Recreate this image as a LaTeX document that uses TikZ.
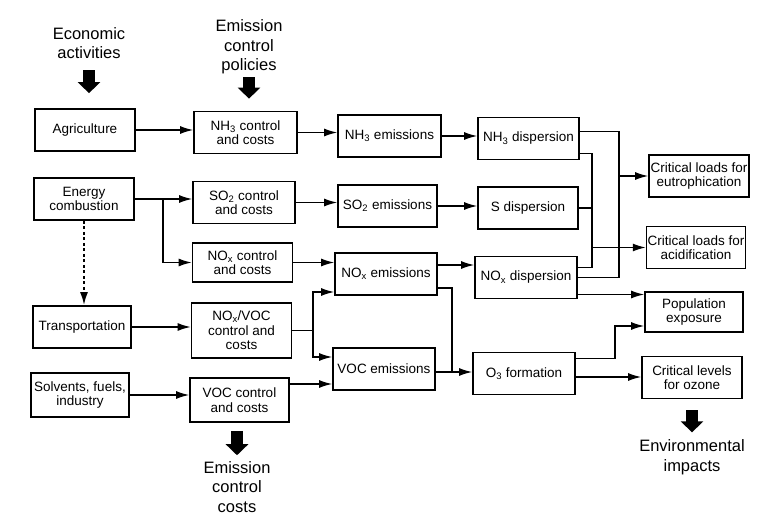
\documentclass[tikz,border=0pt]{standalone}
\usepackage{fontspec}
\setmainfont{Liberation Sans}
\usetikzlibrary{arrows.meta,calc}

\begin{document}
\begin{tikzpicture}[x=1pt,y=-1pt,
	box/.style={draw, line width=1.7pt, align=center, inner sep=1pt,
		minimum width=100pt, minimum height=42pt, font=\fontsize{13.5}{14.5}\selectfont},
	wire/.style={line width=1.4pt},
	conn/.style={line width=1.4pt, -{Latex[length=13pt,width=8pt]}},
	lbl/.style={align=center, inner sep=0pt, font=\fontsize{16.5}{19.5}\selectfont},
	bigarrow/.style={line width=12pt, -{Triangle[length=11pt,width=22pt]}}]
		\useasboundingbox (0,0) rectangle (770,518);
		% outside labels
		\node[lbl] (econ) at (89,43) {Economic\\activities};
		\node[lbl] (policies) at (249,47) {Emission\\control\\policies};
		\node[lbl] (costs) at (237,487) {Emission\\control\\costs};
		\node[lbl] (impacts) at (692,457) {Environmental\\impacts};
		% activities
		\node[box] (agri) at (85,130) {Agriculture};
		\node[box] (energy) at (84,199) {Energy\\combustion};
		\node[box, minimum width=98pt] (transp) at (82,327) {Transportation};
		\node[box, minimum width=98pt, minimum height=44pt] (solv) at (80,395) {Solvents, fuels,\\industry};
		% controls
		\node[box, minimum width=103pt] (nhctrl) at (245.5,132.5) {NH\textsubscript{3} control\\and costs};
		\node[box, minimum width=102pt] (soctrl) at (244,202.5) {SO\textsubscript{2} control\\and costs};
		\node[box, minimum height=39pt] (noctrl) at (242.5,262.5) {NO\textsubscript{x} control\\and costs};
		\node[box, minimum height=55pt] (novocctrl) at (241.5,330.5) {NO\textsubscript{x}/VOC\\control and\\costs};
		\node[box, minimum width=99pt, minimum height=44pt] (vocctrl) at (239.5,400) {VOC control\\and costs};
		% emissions
		\node[box, minimum width=103pt] (nhem) at (389.5,136) {NH\textsubscript{3} emissions};
		\node[box, minimum width=99pt] (soem) at (387.5,206) {SO\textsubscript{2} emissions};
		\node[box, minimum width=102pt] (noem) at (386,274) {NO\textsubscript{x} emissions};
		\node[box, minimum width=102pt] (vocem) at (384,369) {VOC emissions};
		% dispersion
		\node[box, minimum width=101pt] (nhdisp) at (528.5,138.5) {NH\textsubscript{3} dispersion};
		\node[box] (sdisp) at (528,208) {S dispersion};
		\node[box, minimum width=102pt] (nodisp) at (526,277.5) {NO\textsubscript{x} dispersion};
		\node[box, minimum width=102pt] (othree) at (524,373.5) {O\textsubscript{3} formation};
		% impacts
		\node[box] (eutro) at (699,176) {Critical loads for\\eutrophication};
		\node[box, minimum width=98pt] (acid) at (696,247.5) {Critical loads for\\acidification};
		\node[box, minimum width=98pt, minimum height=40pt] (popexp) at (694,312) {Population\\exposure};
		\node[box] (ozone) at (692,377.5) {Critical levels\\for ozone};

		% big arrows
		\draw[bigarrow, shorten <=11pt, shorten >=15pt] (econ.south) -- (econ.south |- agri.north);
		\draw[bigarrow, shorten <=3pt, shorten >=12pt] (policies.south) -- (policies.south |- nhctrl.north);
		\draw[bigarrow, shorten <=8pt, shorten >=6pt] (costs.north |- vocctrl.south) -- (costs.north);
		\draw[bigarrow, shorten <=11pt, shorten >=7pt] (impacts.north |- ozone.south) -- (impacts.north);

		% activities -> controls
		\draw[conn] (agri.east) -- (agri.east -| nhctrl.west);
		\draw[conn] (energy.east) -- (energy.east -| soctrl.west);
		\coordinate (ebr) at (163,199);
		\draw[conn] (ebr) |- (noctrl.west);
		\draw[conn, line width=1.9pt, dash pattern=on 3pt off 2.5pt] (energy.south) -- (energy.south |- transp.north);
		\draw[conn] (transp.east) -- (transp.east -| novocctrl.west);
		\draw[conn] (solv.east) -- (solv.east -| vocctrl.west);

		% controls -> emissions
		\draw[conn] (nhctrl.east) -- (nhctrl.east -| nhem.west);
		\draw[conn] (soctrl.east) -- (soctrl.east -| soem.west);
		\draw[conn] (noctrl.east) -- (noctrl.east -| noem.west);
		\coordinate (nvb) at (313,330.5);
		\draw[wire] (novocctrl.east) -- (nvb);
		\draw[conn] (nvb) |- ($(noem.west)+(0,18)$);
		\draw[conn] (nvb) |- ($(vocem.west)+(0,-12)$);
		\coordinate (vcout) at ($(vocctrl.east)+(0,-16)$);
		\draw[conn] (vcout) -- (vcout -| vocem.west);

		% emissions -> dispersion
		\draw[conn] (nhem.east) -- (nhem.east -| nhdisp.west);
		\draw[conn] (soem.east) -- (soem.east -| sdisp.west);
		\coordinate (neout) at ($(noem.east)+(0,-9)$);
		\draw[conn] (neout) -- (neout -| nodisp.west);
		\coordinate (ojn) at (452,372);
		\draw[wire] ($(noem.east)+(0,14)$) -| (ojn);
		\draw[conn] (vocem.east |- ojn) -- (othree.west |- ojn);

		% dispersion -> impacts
		\coordinate (busA) at (619,0);
		\coordinate (busB) at (592,0);
		\coordinate (ndlow) at ($(nodisp.east)+(0,-10)$);
		\draw[wire] ($(nhdisp.east)+(0,-7)$) -| (busA |- nodisp.east) -- (nodisp.east);
		\draw[wire] ($(nhdisp.east)+(0,15)$) -| (busB |- ndlow) -- (ndlow);
		\draw[wire] (sdisp.east) -- (sdisp.east -| busB);
		\draw[conn] (busA |- eutro.west) -- (eutro.west);
		\draw[conn] (busB |- acid.west) -- (acid.west);
		\coordinate (ndpop) at ($(nodisp.east)+(0,17)$);
		\draw[conn] (ndpop) -- (ndpop -| popexp.west);
		\coordinate (pj) at (615,326);
		\draw[conn] ($(othree.east)+(0,-15)$) -| (pj) -- (pj -| popexp.west);
		\coordinate (o3oz) at ($(othree.east)+(0,3.5)$);
		\draw[conn] (o3oz) -- (o3oz -| ozone.west);
\end{tikzpicture}
\end{document}
